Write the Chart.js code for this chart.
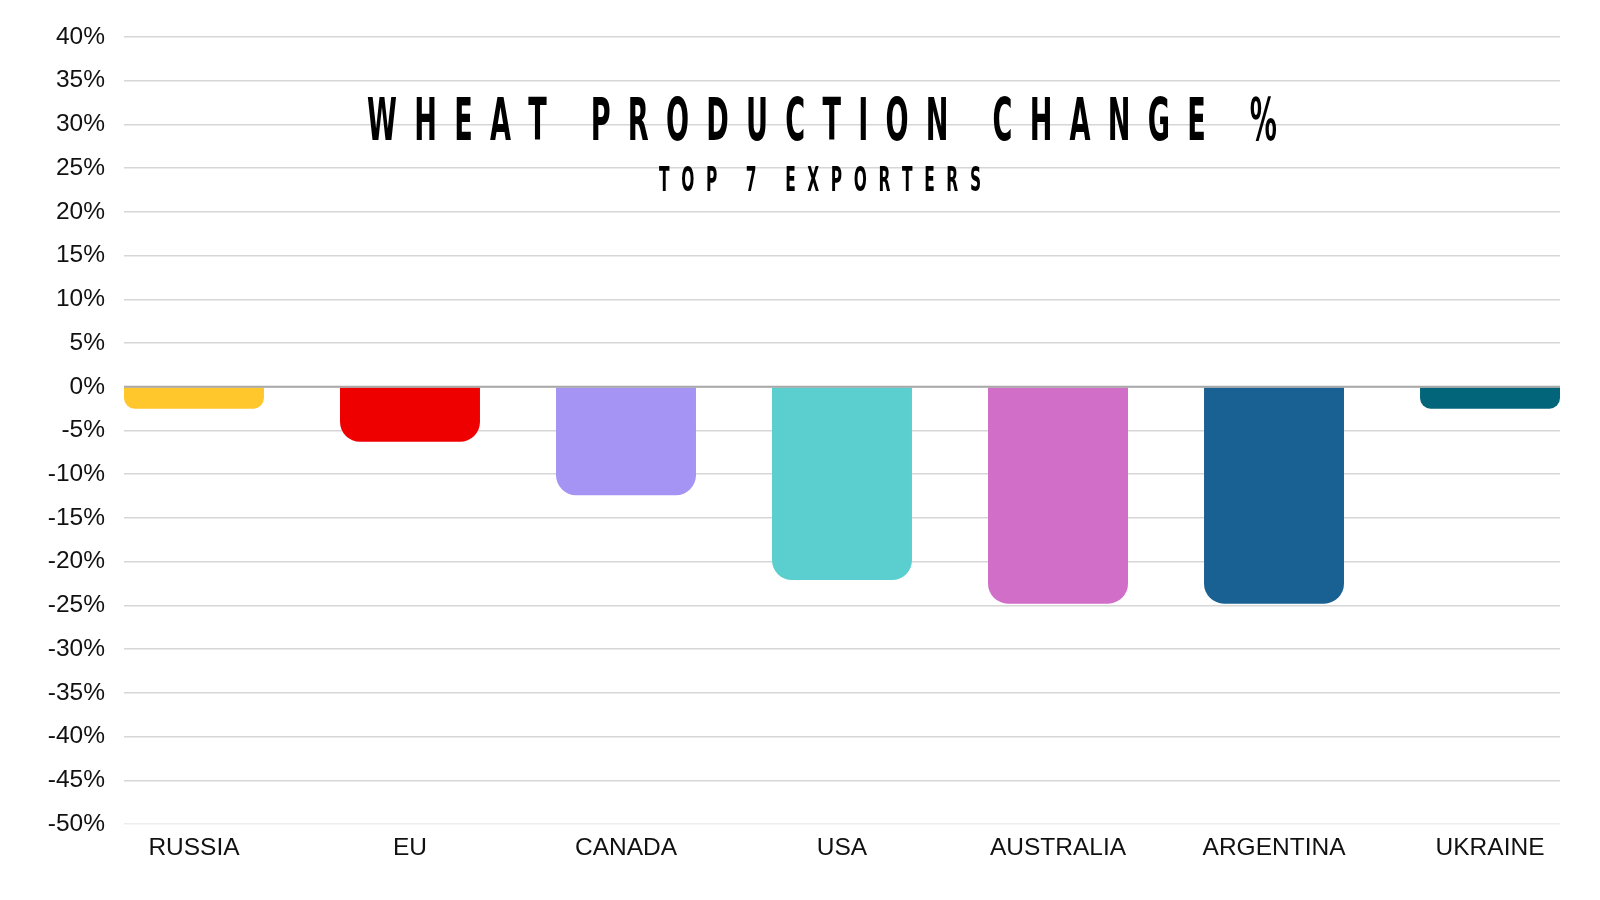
<!DOCTYPE html>
<html>
<head>
<meta charset="utf-8">
<title>Wheat production change %</title>
<script src="https://cdn.jsdelivr.net/npm/chart.js@4.4.1/dist/chart.umd.min.js"></script>
<style>
  html, body { margin: 0; padding: 0; background: #ffffff; }
  #wrap { width: 1600px; height: 900px; }
</style>
</head>
<body>
<div id="wrap"><canvas id="barChart" width="1600" height="900"></canvas></div>
<script>
const categories = ["RUSSIA", "EU", "CANADA", "USA", "AUSTRALIA", "ARGENTINA", "UKRAINE"];
const changes = [-2.5, -6.3, -12.4, -22.1, -24.8, -24.8, -2.5];
const barColors = ["#ffc72c", "#ef0000", "#a594f3", "#5bcfcf", "#d16ec8", "#1a6193", "#03657a"];
const yMin = -50;
const yMax = 40;
const yStep = 5;
const titleText = "WHEAT PRODUCTION CHANGE %";
const subtitleText = "TOP 7 EXPORTERS";

Chart.defaults.font.family = "'Liberation Sans', Arial, sans-serif";
Chart.defaults.font.size = 24.5;
Chart.defaults.color = "#111111";

// letter spaced condensed caps, drawn one char at a time
function spacedText(ctx, text, cx, baseline, size, width) {
    const sx = 0.52;
    ctx.save();
    ctx.font = "bold " + size + "px 'DejaVu Sans Condensed', 'DejaVu Sans', sans-serif";
    ctx.fillStyle = "#000000";
    ctx.textBaseline = "alphabetic";
    ctx.textAlign = "left";
    const chars = text.split("");
    const adv = chars.map(c => ctx.measureText(c).width * sx);
    const sum = adv.reduce((a, b) => a + b, 0);
    const gap = (width - sum) / (chars.length - 1);
    let x = cx - width / 2;
    for (let i = 0; i < chars.length; i++) {
        ctx.save();
        ctx.translate(x, baseline);
        ctx.scale(sx, 1);
        ctx.fillText(chars[i], 0, 0);
        ctx.restore();
        x += adv[i] + gap;
    }
    ctx.restore();
}

const titlePlugin = {
    id: "titlePlugin",
    afterDraw(chart) {
        const ctx = chart.ctx;
        spacedText(ctx, titleText, 822, 140, 58, 910);
        spacedText(ctx, subtitleText, 820, 191, 33, 322);
    }
};

const zeroLine = {
    id: "zeroLine",
    afterDatasetsDraw(chart) {
        const ctx = chart.ctx;
        const y = chart.scales.y.getPixelForValue(0);
        ctx.save();
        ctx.strokeStyle = "#a8a8a8";
        ctx.lineWidth = 2;
        ctx.beginPath();
        ctx.moveTo(chart.chartArea.left, y);
        ctx.lineTo(chart.chartArea.right, y);
        ctx.stroke();
        ctx.restore();
    }
};

new Chart(document.getElementById("barChart"), {
    type: "bar",
    data: {
        datasets: [
            {
                data: changes.map((v, i) => ({x: i, y: v})),
                backgroundColor: barColors,
                borderRadius: 20,
                borderSkipped: "start",
                barPercentage: 0.648,
                categoryPercentage: 1
            }
        ]
    },
    plugins: [zeroLine, titlePlugin],
    options: {
        responsive: false,
        animation: false,
        devicePixelRatio: 1,
        layout: {
            padding: {top: 37, right: 40, bottom: 0, left: 0}
        },
        scales: {
            x: {
                type: "linear",
                offset: false,
                bounds: "data",
                min: -0.324,
                max: categories.length - 1 + 0.324,
                afterBuildTicks: scale => {
                    scale.ticks = categories.map((c, i) => ({value: i}));
                },
                afterFit: scale => {
                    scale.height = 76;
                },
                grid: {display: false},
                border: {display: false},
                ticks: {
                    padding: 2,
                    maxRotation: 0,
                    autoSkip: false,
                    callback: value => categories[value]
                }
            },
            y: {
                min: yMin,
                max: yMax,
                afterFit: scale => {
                    scale.width = 124;
                },
                grid: {
                    drawTicks: false,
                    lineWidth: 1.5,
                    color: ctx => ctx.tick && ctx.tick.value === yMin ? "#eeeeee" : "#d6d6d6"
                },
                border: {display: false},
                ticks: {
                    stepSize: yStep,
                    padding: 19,
                    callback: value => value + "%"
                }
            }
        },
        plugins: {
            legend: {display: false},
            tooltip: {enabled: false}
        }
    }
});
</script>
</body>
</html>
